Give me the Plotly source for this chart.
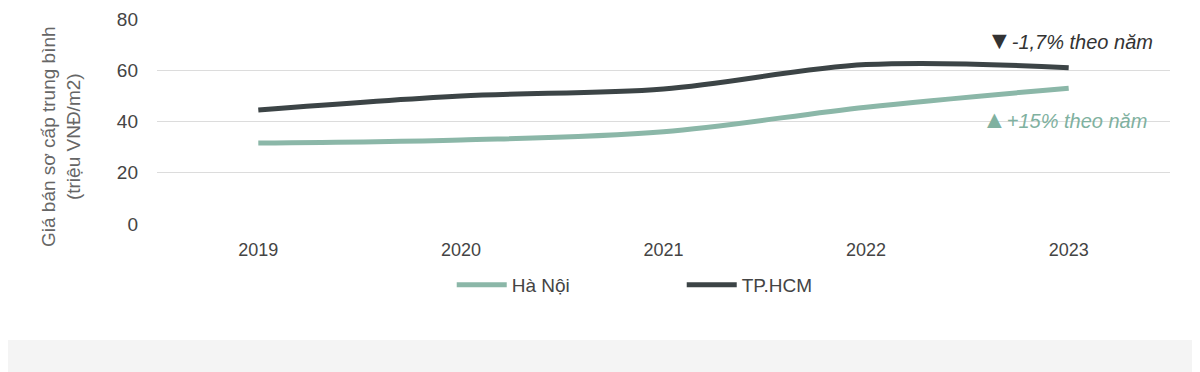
import plotly.graph_objects as go

years = ["2019", "2020", "2021", "2022", "2023"]
ha_noi = [31.6, 32.8, 36.0, 45.6, 53.0]
tp_hcm = [44.5, 50.0, 52.7, 62.2, 61.0]
y_ticks = [0, 20, 40, 60, 80]

# page body has an 8px margin: the figure starts at (8, 8)
OFF = 8
W, H = 1200 - OFF, 372 - OFF
L, R, T, B = 157 - OFF, 30, 19 - OFF, 148
pw, ph = W - L - R, H - T - B

FONT = "Liberation Sans, Arial"

fig = go.Figure()
fig.add_trace(go.Scatter(x=years, y=ha_noi, name="Hà Nội", mode="lines",
                         line=dict(color="#8bb7a8", width=5, shape="spline", smoothing=1.0)))
fig.add_trace(go.Scatter(x=years, y=tp_hcm, name="TP.HCM", mode="lines",
                         line=dict(color="#3c4446", width=5, shape="spline", smoothing=1.0)))

def px_x(p):
    return (p - OFF - L) / pw

def px_y(p):
    return (H - B - (p - OFF)) / ph

fig.add_shape(type="rect", xref="paper", yref="paper",
              x0=px_x(0), x1=px_x(1195), y0=px_y(340), y1=px_y(0),
              fillcolor="white", line=dict(width=0), layer="below")

fig.add_annotation(xref="paper", yref="paper", x=px_x(1155), y=px_y(40),
                   xanchor="right", yanchor="middle", showarrow=False,
                   text="<span style='font-size:25px'>▼</span><i>-1,7% theo năm</i>",
                   font=dict(family=FONT, size=20, color="#333"))
fig.add_annotation(xref="paper", yref="paper", x=px_x(1149), y=px_y(119),
                   xanchor="right", yanchor="middle", showarrow=False,
                   text="<span style='font-size:25px'>▲</span><i>+15% theo năm</i>",
                   font=dict(family=FONT, size=20, color="#7fb1a0"))

# y-axis title drawn as rotated text
fig.add_annotation(xref="paper", yref="paper", x=px_x(61), y=px_y(137),
                   xanchor="center", yanchor="middle", showarrow=False, textangle=-90,
                   text="Giá bán sơ cấp trung bình<br>(triệu VNĐ/m2)",
                   font=dict(family=FONT, size=19, color="#666"))

fig.update_layout(
    width=W, height=H,
    margin=dict(l=L, r=R, t=T, b=B, autoexpand=False),
    paper_bgcolor="#f4f4f4",
    plot_bgcolor="rgba(0,0,0,0)",
    font=dict(family=FONT, size=19, color="#444"),
    xaxis=dict(type="category", range=[-0.5, 4.5], showgrid=False, zeroline=False,
               showline=False, ticks="", tickfont=dict(size=18, color="#444"),
               ticklabelstandoff=13, automargin=False),
    yaxis=dict(range=[0, 80], tickvals=y_ticks, showgrid=True, gridcolor="#dcdcdc",
               gridwidth=1, zeroline=False, showline=False, ticks="",
               tickfont=dict(size=19, color="#444"), ticklabelstandoff=18, automargin=False),
    legend=dict(orientation="h", x=0.518, xanchor="center", y=px_y(285), yanchor="middle",
                bgcolor="rgba(0,0,0,0)", font=dict(size=19, color="#444"),
                itemwidth=50, entrywidth=165, entrywidthmode="pixels", tracegroupgap=0),
    showlegend=True,
)

fig.write_html("out.html")
